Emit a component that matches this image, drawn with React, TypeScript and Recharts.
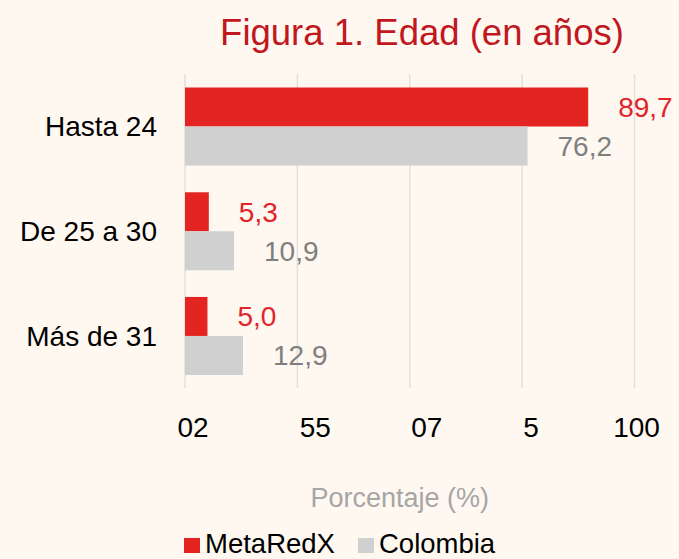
import { BarChart, Bar, XAxis, YAxis, CartesianGrid, LabelList } from "recharts"

const CATEGORIAS = ["Hasta 24", "De 25 a 30", "Más de 31"]
const METAREDX = [89.7, 5.3, 5.0]
const COLOMBIA = [76.2, 10.9, 12.9]
const TICK_VALUES = [0, 25, 50, 75, 100]
const TICK_LABELS = ["02", "55", "07", "5", "100"]
const SERIES = [
  { key: "metaredx", nombre: "MetaRedX", color: "#e32420", texto: "#e3232a" },
  { key: "colombia", nombre: "Colombia", color: "#d0d0d0", texto: "#7f7f7f" },
]

// desplazamiento horizontal de cada etiqueta del eje (como en la figura)
const TICK_SHIFT = [8, 18, 17, 9, 2]
const LEGEND_X = [184, 358]
const FONT = "'Liberation Sans', Arial, sans-serif"

const data = CATEGORIAS.map((c, i) => ({
  categoria: c,
  metaredx: METAREDX[i],
  colombia: COLOMBIA[i],
}))

const fmt = (v: any) => Number(v).toFixed(1).replace(".", ",")

const XTick = ({ x, y, payload, index }: any) => {
  const i = TICK_VALUES.indexOf(payload.value)
  return (
    <text
      x={x + (TICK_SHIFT[i] ?? 0)}
      y={y + 49}
      textAnchor="middle"
      fontSize={28}
      fontFamily={FONT}
      fill="#000"
    >
      {TICK_LABELS[i] ?? index}
    </text>
  )
}

export default function App() {
  return (
    <div
      style={{
        position: "absolute",
        left: 0,
        top: 0,
        width: 679,
        height: 559,
        background: "#fef8f1",
        overflow: "hidden",
      }}
    >
      <BarChart
        width={679}
        height={559}
        data={data}
        layout="vertical"
        margin={{ top: 74, right: 44.5, left: 0, bottom: 0 }}
        barCategoryGap="13%"
        barGap={0}
      >
        <CartesianGrid horizontal={false} stroke="#e3dfda" strokeWidth={1.5} />
        <XAxis
          type="number"
          domain={[0, 100]}
          ticks={TICK_VALUES}
          height={171}
          axisLine={false}
          tickLine={false}
          tickSize={0}
          tickMargin={0}
          tick={<XTick />}
          label={({ viewBox }: any) => (
            <text
              x={viewBox.x + viewBox.width / 2 - 10}
              y={viewBox.y + 119}
              textAnchor="middle"
              fontSize={27}
              fontFamily={FONT}
              fill="#a6a6a6"
            >
              Porcentaje (%)
            </text>
          )}
        />
        <YAxis
          type="category"
          dataKey="categoria"
          width={185}
          axisLine={false}
          tickLine={false}
          tickSize={0}
          tickMargin={28}
          tick={{ fontSize: 28, fill: "#000", fontFamily: FONT }}
        />
        {SERIES.map((s) => (
          <Bar key={s.key} dataKey={s.key} fill={s.color} isAnimationActive={false}>
            <LabelList
              dataKey={s.key}
              position="right"
              offset={30}
              formatter={fmt}
              fill={s.texto}
              fontSize={28}
              fontFamily={FONT}
            />
          </Bar>
        ))}
        <text
          x={422}
          y={45}
          textAnchor="middle"
          fontSize={36.5}
          fontFamily={FONT}
          fill="#c1181f"
        >
          Figura 1. Edad (en años)
        </text>
        <g>
          {SERIES.map((s, i) => (
            <g key={s.key}>
              <rect x={LEGEND_X[i]} y={538} width={16} height={15} fill={s.color} />
              <text
                x={LEGEND_X[i] + 21}
                y={553}
                fontSize={27.5}
                fontFamily={FONT}
                fill="#000"
              >
                {s.nombre}
              </text>
            </g>
          ))}
        </g>
      </BarChart>
    </div>
  )
}
